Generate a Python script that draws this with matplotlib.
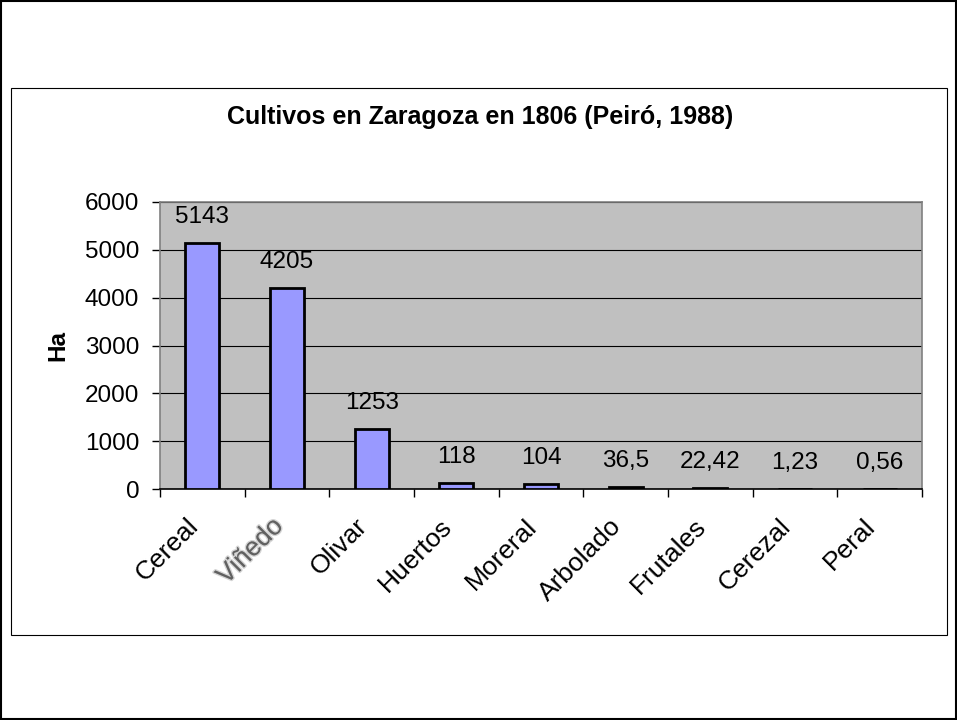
import matplotlib.pyplot as plt
import matplotlib.patheffects as pe
import matplotlib.transforms as mtransforms
from matplotlib.patches import Rectangle

plt.rcParams['font.family'] = ['Liberation Sans', 'DejaVu Sans']

# Cultivos (ha)
cultivos = ["Cereal", "Viñedo", "Olivar", "Huertos", "Moreral",
            "Arbolado", "Frutales", "Cerezal", "Peral"]
hectareas = [5143, 4205, 1253, 118, 104, 36.5, 22.42, 1.23, 0.56]
etiquetas = ["5143", "4205", "1253", "118", "104", "36,5", "22,42", "1,23", "0,56"]

W, H = 957, 720
FS = 17.5
fig = plt.figure(figsize=(W / 100, H / 100), dpi=100)

# outer border and chart area box
fig.patches.append(Rectangle((1 / W, 1 / H), 1 - 2 / W, 1 - 2 / H, transform=fig.transFigure,
                             fill=False, edgecolor='black', linewidth=1.5))
fig.patches.append(Rectangle((11 / W, 1 - 635 / H), 936 / W, 547 / H, transform=fig.transFigure,
                             fill=False, edgecolor='black', linewidth=0.8))

ax = fig.add_axes([160 / W, 1 - 489 / H, 762 / W, 287 / H])
ax.set_facecolor('#C0C0C0')
for s in ax.spines.values():
    s.set_color('#808080')
    s.set_linewidth(1.2)
ax.spines['bottom'].set_color('black')

x = list(range(len(cultivos)))
ax.bar(x, hectareas, width=0.4, color='#9999FF', edgecolor='black', linewidth=2, zorder=3)
ax.set_xlim(-0.5, len(cultivos) - 0.5)
ax.set_ylim(0, 6000)
ax.set_yticks(range(0, 6001, 1000))
ax.yaxis.grid(True, color='black', linewidth=0.8, zorder=0)
ax.set_axisbelow(True)
ax.tick_params(axis='y', labelsize=FS, length=6, color='black', width=1, pad=9)

# ticks at category boundaries, labels at centres
ax.set_xticks([i - 0.5 for i in range(len(cultivos) + 1)])
ax.set_xticklabels([])
ax.tick_params(axis='x', which='major', length=6, color='black', width=1)
ax.set_xticks(x, minor=True)
ax.set_xticklabels(cultivos, minor=True, rotation=45, ha='right', va='center',
                   rotation_mode='anchor', fontsize=19)
ax.tick_params(axis='x', which='minor', length=0, pad=22)
shift = mtransforms.ScaledTranslation(-0.08, -0.03, fig.dpi_scale_trans)
for lbl in ax.get_xticklabels(minor=True):
    lbl.set_transform(lbl.get_transform() + shift)
    if lbl.get_text() == "Viñedo":
        lbl.set_color('#606060')
        lbl.set_path_effects([pe.withStroke(linewidth=2, foreground='#B8B8B8', alpha=0.6)])

for xi, v, t in zip(x, hectareas, etiquetas):
    ax.annotate(t, (xi, v), xytext=(0, 14.4), textcoords='offset points',
                ha='center', va='baseline', fontsize=FS)

ax.set_ylabel("Ha", fontsize=FS, fontweight='bold', labelpad=11)
fig.text(480 / W, 1 - 117 / H, "Cultivos en Zaragoza en 1806 (Peiró, 1988)",
         ha='center', va='center', fontsize=18, fontweight='bold')

fig.savefig("out.png", dpi=100)
